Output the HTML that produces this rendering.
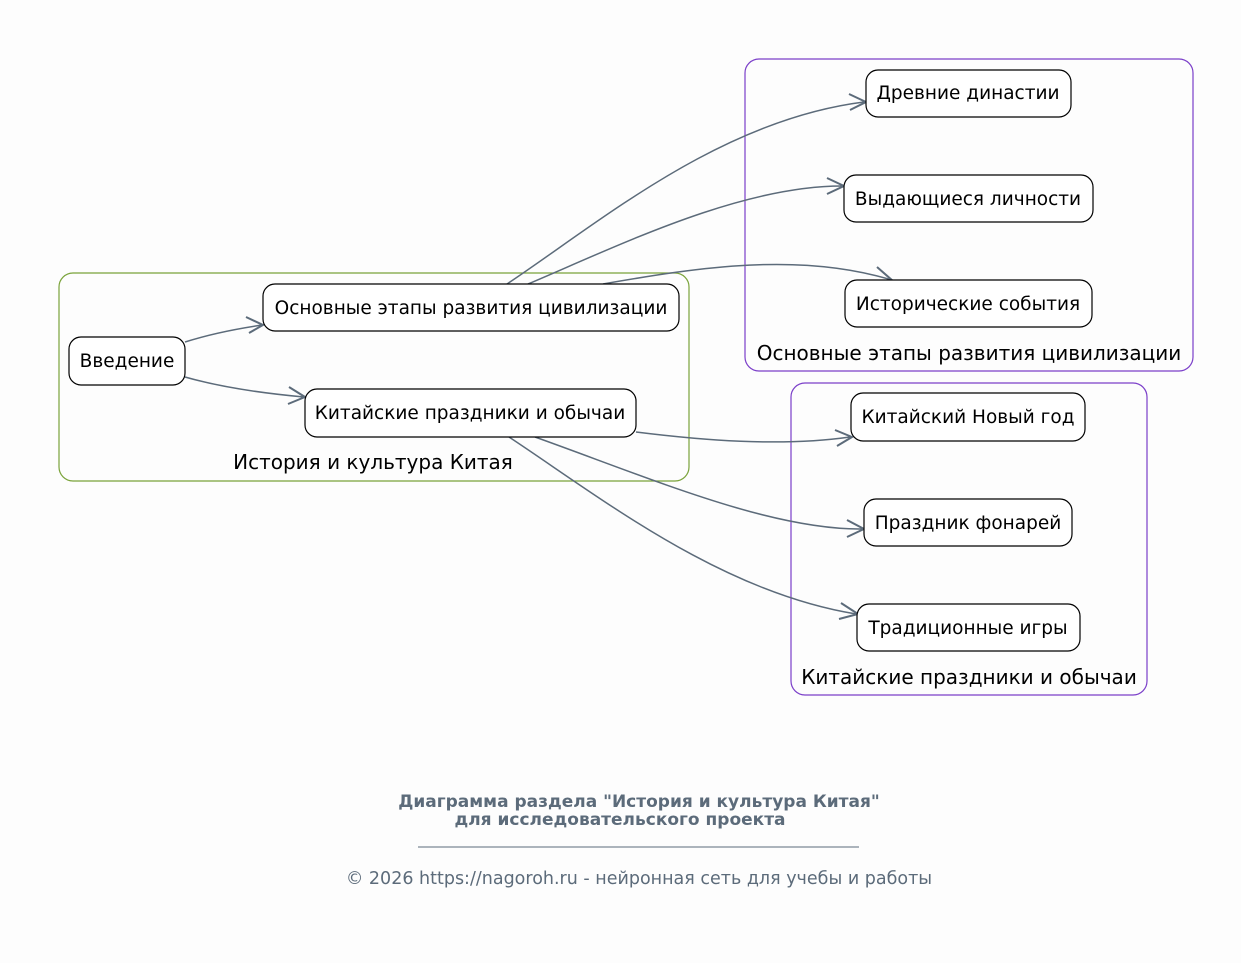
<!DOCTYPE html>
<html><head><meta charset="utf-8"><style>
html,body{margin:0;padding:0;background:#fdfdfd;}
svg{display:block;font-family:"DejaVu Sans","Liberation Sans",sans-serif;}
</style></head><body>
<svg width="1241" height="963" viewBox="0 0 1241 963" xmlns="http://www.w3.org/2000/svg">
<rect width="1241" height="963" fill="#fdfdfd"/>
<g fill="none" stroke-width="1.2">
<rect x="59" y="273" width="630" height="208" rx="14" stroke="#7aa33a"/>
<rect x="745" y="59" width="448" height="312" rx="14" stroke="#7b3fc9"/>
<rect x="791" y="383" width="356" height="312" rx="14" stroke="#7b3fc9"/>
</g>
<g font-size="20" fill="#000" text-anchor="middle">
<text x="373" y="469">История и культура Китая</text>
<text x="969" y="360">Основные этапы развития цивилизации</text>
<text x="969" y="684">Китайские праздники и обычаи</text>
</g>
<g fill="none" stroke="#5c6b7a" stroke-width="1.5">
<path d="M185,342 C210,334 235,329 262,325"/>
<path d="M185,377 C220,387 260,393 304,397"/>
<path d="M507,284 C600,222 720,120 864,102"/>
<path d="M528,284 C620,245 740,186 842,186"/>
<path d="M603,284 C700,267 800,252 892,280"/>
<path d="M636,432 C700,440 780,447 850,437"/>
<path d="M535,437 C650,478 770,530 862,529"/>
<path d="M509,437 C600,497 720,592 856,614"/>
</g>
<g fill="none" stroke="#5c6b7a" stroke-width="2" stroke-linejoin="miter">
<path d="M246,317 L263,325 L249,333"/>
<path d="M289,387 L305,397 L288,404"/>
<path d="M849,94 L866,102 L850,110"/>
<path d="M827,178 L844,186 L827,194"/>
<path d="M877,267 L893,281 L875,281"/>
<path d="M835,430 L852,437 L837,446"/>
<path d="M847,520 L864,529 L847,537"/>
<path d="M841,603 L858,614 L839,619"/>
</g>
<g fill="#fff" stroke="#000" stroke-width="1.2">
<rect x="69" y="337" width="116" height="48" rx="12"/>
<rect x="263" y="284" width="416" height="47" rx="12"/>
<rect x="305" y="389" width="331" height="48" rx="12"/>
<rect x="866" y="70" width="205" height="47" rx="12"/>
<rect x="844" y="175" width="249" height="47" rx="12"/>
<rect x="845" y="280" width="247" height="47" rx="12"/>
<rect x="851" y="393" width="234" height="48" rx="12"/>
<rect x="864" y="499" width="208" height="47" rx="12"/>
<rect x="857" y="604" width="223" height="47" rx="12"/>
</g>
<g font-size="18.5" fill="#000" text-anchor="middle">
<text x="127" y="367">Введение</text>
<text x="471" y="314">Основные этапы развития цивилизации</text>
<text x="470" y="419">Китайские праздники и обычаи</text>
<text x="968" y="99">Древние династии</text>
<text x="968" y="205">Выдающиеся личности</text>
<text x="968" y="310">Исторические события</text>
<text x="968" y="423">Китайский Новый год</text>
<text x="968" y="529">Праздник фонарей</text>
<text x="968" y="634">Традиционные игры</text>
</g>
<g fill="#5c6b7a" text-anchor="middle">
<text x="639" y="807" font-size="17" font-weight="bold">Диаграмма раздела "История и культура Китая"</text>
<text x="620" y="825" font-size="17" font-weight="bold">для исследовательского проекта</text>
<line x1="418" y1="847" x2="859" y2="847" stroke="#5c6b7a" stroke-width="1"/>
<text x="639" y="884" font-size="17.5">© 2026 https://nagoroh.ru - нейронная сеть для учебы и работы</text>
</g>
</svg>
</body></html>
